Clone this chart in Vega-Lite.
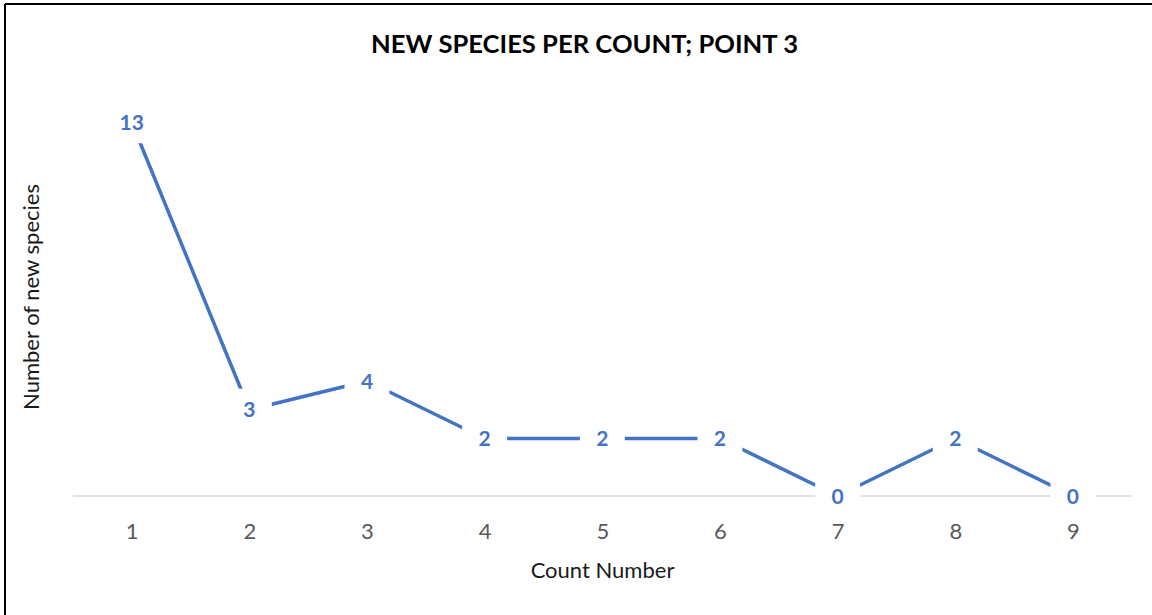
{
  "$schema": "https://vega.github.io/schema/vega-lite/v6.json",
  "width": 1147,
  "height": 611,
  "autosize": "none",
  "padding": {"left": 5, "top": 4, "right": 0, "bottom": 0},
  "background": "white",
  "config": {"view": {"stroke": null}, "font": "Lato"},
  "title": {
    "text": "NEW SPECIES PER COUNT; POINT 3",
    "font": "Lato",
    "fontSize": 25.6,
    "fontWeight": "bold",
    "color": "#000000",
    "anchor": "middle",
    "frame": "group",
    "orient": "top",
    "baseline": "middle",
    "offset": -68,
    "dx": 6
  },
  "data": {
    "values": [
      {"count": 1, "species": 13},
      {"count": 2, "species": 3},
      {"count": 3, "species": 4},
      {"count": 4, "species": 2},
      {"count": 5, "species": 2},
      {"count": 6, "species": 2},
      {"count": 7, "species": 0},
      {"count": 8, "species": 2},
      {"count": 9, "species": 0}
    ]
  },
  "layer": [
    {
      "mark": {"type": "line", "color": "#4472C4", "strokeWidth": 3.5, "strokeCap": "round", "strokeJoin": "round"},
      "encoding": {
        "x": {
          "field": "count",
          "type": "quantitative",
          "scale": {"domain": [-0.0769, 9.6723], "nice": false, "zero": false},
          "axis": {
            "values": [1, 2, 3, 4, 5, 6, 7, 8, 9],
            "format": "d",
            "domain": false,
            "ticks": false,
            "tickSize": 0,
            "grid": false,
            "offset": -119,
            "labelFont": "Lato",
            "labelFontSize": 22,
            "labelColor": "#595959",
            "labelBaseline": "middle",
            "labelPadding": 35,
            "title": "Count Number",
            "titleFont": "Lato",
            "titleFontSize": 22,
            "titleFontWeight": "normal",
            "titleColor": "#1A1A1A",
            "titleX": 597,
            "titleY": 74,
            "titleAlign": "center",
            "titleBaseline": "middle"
          }
        },
        "y": {
          "field": "species",
          "type": "quantitative",
          "scale": {"domain": [-4.139, 17.113], "nice": false, "zero": false},
          "axis": {
            "labels": false,
            "ticks": false,
            "domain": false,
            "grid": false,
            "title": "Number of new species",
            "titleFont": "Lato",
            "titleFontSize": 22,
            "titleFontWeight": "normal",
            "titleColor": "#1A1A1A",
            "titleAngle": -90,
            "titleX": 26,
            "titleY": 292.5,
            "titleAlign": "center",
            "titleBaseline": "middle"
          }
        }
      }
    },
    {
      "data": {"values": [{}]},
      "mark": {"type": "rule", "color": "#D9D9D9", "strokeWidth": 1.5},
      "encoding": {
        "x": {"datum": 0.5, "type": "quantitative", "scale": {"domain": [-0.0769, 9.6723], "nice": false, "zero": false}},
        "x2": {"datum": 9.5},
        "y": {"datum": 0, "type": "quantitative", "scale": {"domain": [-4.139, 17.113], "nice": false, "zero": false}}
      }
    },
    {
      "mark": {"type": "point", "shape": "M-1.07,-1H1.07V1H-1.07Z", "size": 1764, "filled": true, "color": "#FFFFFF", "opacity": 1, "strokeWidth": 0},
      "encoding": {
        "x": {"field": "count", "type": "quantitative", "scale": {"domain": [-0.0769, 9.6723], "nice": false, "zero": false}},
        "y": {"field": "species", "type": "quantitative", "scale": {"domain": [-4.139, 17.113], "nice": false, "zero": false}}
      }
    },
    {
      "mark": {"type": "text", "font": "Lato", "fontSize": 21, "fontWeight": "bold", "color": "#4472C4", "align": "center", "baseline": "middle", "dy": 1.5},
      "encoding": {
        "x": {"field": "count", "type": "quantitative", "scale": {"domain": [-0.0769, 9.6723], "nice": false, "zero": false}},
        "y": {"field": "species", "type": "quantitative", "scale": {"domain": [-4.139, 17.113], "nice": false, "zero": false}},
        "text": {"field": "species", "type": "quantitative"}
      }
    },
    {
      "data": {"values": [{}]},
      "mark": {"type": "rule", "color": "#000000", "strokeWidth": 2},
      "encoding": {
        "x": {"datum": -0.0769, "type": "quantitative", "scale": {"domain": [-0.0769, 9.6723], "nice": false, "zero": false}}
      }
    },
    {
      "data": {"values": [{}]},
      "mark": {"type": "rule", "color": "#000000", "strokeWidth": 2},
      "encoding": {
        "y": {"datum": 17.113, "type": "quantitative", "scale": {"domain": [-4.139, 17.113], "nice": false, "zero": false}}
      }
    }
  ]
}
